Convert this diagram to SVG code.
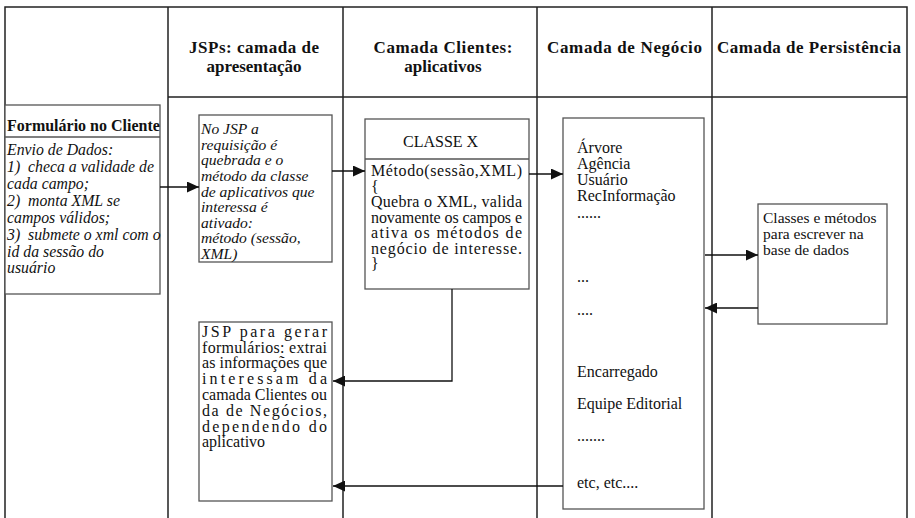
<svg xmlns="http://www.w3.org/2000/svg" width="915" height="518" viewBox="0 0 915 518">
<style>
  text { font-family: "Liberation Serif", "Times New Roman", serif; fill: #111; white-space: pre; }
  .hdr { font-size: 17px; font-weight: bold; text-anchor: middle; }
  .grid { stroke: #222; stroke-width: 1.5; fill: none; }
  .box { fill: #fff; stroke: #555; stroke-width: 1.3; }
  .it { font-style: italic; font-size: 15.8px; }
  .it2 { font-style: italic; font-size: 15.6px; }
  .t16 { font-size: 16px; }
  .t15 { font-size: 15.5px; }
  .conn { stroke: #111; stroke-width: 1.3; fill: none; marker-end: url(#ah); }
</style>
<defs>
  <marker id="ah" markerUnits="userSpaceOnUse" markerWidth="12" markerHeight="11" refX="12" refY="5.5" orient="auto">
    <path d="M0,0 L12,5.5 L0,11 z" fill="#111"/>
  </marker>
</defs>
<rect width="915" height="518" fill="#fff"/>
<g id="lanes">
  <path class="grid" d="M5,518 V7 H907 V518 M168,7 V518 M343,7 V518 M537,7 V518 M712,7 V518 M168,97 H907"/>
  <text class="hdr" x="254" y="53" textLength="130">JSPs: camada de</text>
  <text class="hdr" x="254" y="72">apresentação</text>
  <text class="hdr" x="443" y="53" textLength="139">Camada Clientes:</text>
  <text class="hdr" x="443" y="72">aplicativos</text>
  <text class="hdr" x="624.5" y="53" textLength="155">Camada de Negócio</text>
  <text class="hdr" x="809" y="53" textLength="184">Camada de Persistência</text>
</g>
<g id="form">
  <rect class="box" x="5" y="105" width="155" height="189"/>
  <line x1="5" y1="137" x2="160" y2="137" stroke="#555" stroke-width="1.3"/>
  <text x="7" y="131" font-size="16" font-weight="bold">Formulário no Cliente</text>
  <text class="it" x="7" y="155">Envio de Dados:</text>
  <text class="it" x="7" y="172">1)  checa a validade de</text>
  <text class="it" x="7" y="189">cada campo;</text>
  <text class="it" x="7" y="206">2)  monta XML se</text>
  <text class="it" x="7" y="223">campos válidos;</text>
  <text class="it" x="7" y="240">3)  submete o xml com o</text>
  <text class="it" x="7" y="257">id da sessão do</text>
  <text class="it" x="7" y="273">usuário</text>
</g>
<g id="jsp-requisicao">
  <rect class="box" x="199" y="115" width="133" height="147"/>
  <text class="it2" x="201" y="134">No JSP a</text>
  <text class="it2" x="201" y="149.6">requisição é</text>
  <text class="it2" x="201" y="165.3">quebrada e o</text>
  <text class="it2" x="201" y="180.9">método da classe</text>
  <text class="it2" x="201" y="196.5">de aplicativos que</text>
  <text class="it2" x="201" y="212.1">interessa é</text>
  <text class="it2" x="201" y="227.8">ativado:</text>
  <text class="it2" x="201" y="243.4">método (sessão,</text>
  <text class="it2" x="201" y="259">XML)</text>
</g>
<g id="classe-x">
  <rect class="box" x="365" y="119" width="164" height="170"/>
  <line x1="365" y1="159" x2="529" y2="159" stroke="#555" stroke-width="1.3"/>
  <text class="t16" x="403" y="147">CLASSE X</text>
  <text class="t16" x="371" y="176" textLength="151">Método(sessão,XML)</text>
  <text class="t16" x="371" y="191.5">{</text>
  <text class="t16" x="371" y="207" textLength="151">Quebra o XML, valida</text>
  <text class="t16" x="371" y="222.5" textLength="151">novamente os campos e</text>
  <text class="t16" x="371" y="238" textLength="151">ativa os métodos de</text>
  <text class="t16" x="371" y="253.5" textLength="151">negócio de interesse.</text>
  <text class="t16" x="371" y="269">}</text>
</g>
<g id="negocio">
  <rect class="box" x="563" y="118" width="141" height="391"/>
  <text class="t16" x="577" y="153">Árvore</text>
  <text class="t16" x="577" y="169">Agência</text>
  <text class="t16" x="577" y="185">Usuário</text>
  <text class="t16" x="577" y="201">RecInformação</text>
  <text class="t16" x="577" y="218">......</text>
  <text class="t16" x="577" y="282">...</text>
  <text class="t16" x="577" y="315">....</text>
  <text class="t16" x="577" y="377">Encarregado</text>
  <text class="t16" x="577" y="409">Equipe Editorial</text>
  <text class="t16" x="577" y="441">.......</text>
  <text class="t16" x="577" y="488">etc, etc....</text>
</g>
<g id="persistencia">
  <rect class="box" x="758" y="204" width="129" height="120"/>
  <text class="t15" x="763" y="223">Classes e métodos</text>
  <text class="t15" x="763" y="239">para escrever na</text>
  <text class="t15" x="763" y="255">base de dados</text>
</g>
<g id="jsp-formularios">
  <rect class="box" x="199" y="322" width="133" height="179"/>
  <text class="t16" x="202" y="336.7" textLength="125">JSP para gerar</text>
  <text class="t16" x="202" y="352.7" textLength="125">formulários: extrai</text>
  <text class="t16" x="202" y="368.3" textLength="125">as informações que</text>
  <text class="t16" x="202" y="384.3" textLength="125">interessam da</text>
  <text class="t16" x="202" y="400" textLength="125">camada Clientes ou</text>
  <text class="t16" x="202" y="416" textLength="125">da de Negócios,</text>
  <text class="t16" x="202" y="431.7" textLength="125">dependendo do</text>
  <text class="t16" x="202" y="447.3">aplicativo</text>
</g>
<g id="connectors">
  <path class="conn" d="M160,187 H199"/>
  <path class="conn" d="M332,171 H365"/>
  <path class="conn" d="M529,174 H563"/>
  <path class="conn" d="M705,255 H758"/>
  <path class="conn" d="M758,308 H705"/>
  <path class="conn" d="M452,289 V381 H333"/>
  <path class="conn" d="M563,486 H333"/>
</g>
</svg>
